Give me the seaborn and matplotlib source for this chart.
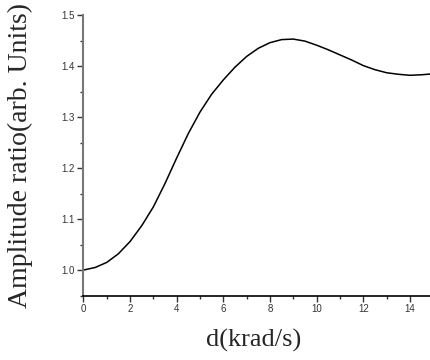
import numpy as np
import pandas as pd
import matplotlib
matplotlib.use("Agg")
import matplotlib.pyplot as plt
import seaborn as sns
from matplotlib.ticker import MultipleLocator

# values
d_krad = [0, 0.5, 1, 1.5, 2, 2.5, 3, 3.5, 4, 4.5, 5, 5.5, 6, 6.5, 7, 7.5,
          8, 8.5, 9, 9.5, 10, 10.5, 11, 11.5, 12, 12.5, 13, 13.5, 14, 14.5, 15]
amp_ratio = [1.000, 1.005, 1.015, 1.032, 1.056, 1.087, 1.124, 1.170, 1.220,
             1.268, 1.310, 1.345, 1.373, 1.398, 1.419, 1.435, 1.446, 1.452,
             1.453, 1.449, 1.441, 1.432, 1.422, 1.412, 1.401, 1.393, 1.387,
             1.384, 1.382, 1.383, 1.385]

df = pd.DataFrame({"d": d_krad, "ratio": amp_ratio})

sns.set_style("ticks")
plt.rcParams['font.family'] = ['Liberation Sans', 'DejaVu Sans']

fig = plt.figure(figsize=(4.3, 3.6), dpi=100)
ax = fig.add_axes([0.194, 0.179, 0.806, 0.779])

sns.lineplot(data=df, x="d", y="ratio", color="black", linewidth=1.1, ax=ax)

ax.set_xlim(0, 14.86)
ax.set_ylim(0.95, 1.5)
ax.xaxis.set_major_locator(MultipleLocator(2))
ax.xaxis.set_minor_locator(MultipleLocator(1))
ax.yaxis.set_major_locator(MultipleLocator(0.1))
ax.yaxis.set_minor_locator(MultipleLocator(0.05))
ax.yaxis.set_major_formatter(plt.FormatStrFormatter('%.1f'))

ax.tick_params(which='major', length=4, width=1, labelsize=7, colors='#333333',
               pad=2)
ax.tick_params(which='minor', length=2, width=1, colors='#333333')

sns.despine(ax=ax)
ax.spines['left'].set_color('#777777')
ax.spines['left'].set_linewidth(1.5)
ax.spines['bottom'].set_color('black')
ax.spines['bottom'].set_linewidth(1.2)

serif = ['Liberation Serif', 'DejaVu Serif']
ax.set_xlabel('d(krad/s)', fontsize=19, family=serif)
ax.set_ylabel('Amplitude ratio(arb. Units)', fontsize=20, family=serif)
ax.xaxis.set_label_coords(0.492, -0.12)
ax.yaxis.set_label_coords(-0.145, 0.5)

fig.savefig("out.png", dpi=100)
